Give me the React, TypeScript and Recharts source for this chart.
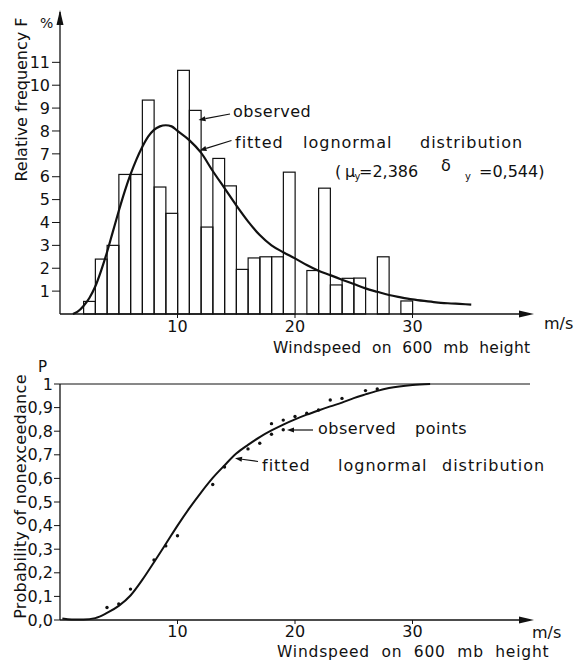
import {
  Bar,
  ComposedChart,
  Line,
  ReferenceDot,
  ReferenceLine,
  Scatter,
  XAxis,
  YAxis,
} from "recharts";

const INK = "#111";
const FONT = "'DejaVu Sans', sans-serif";

// histogram: lower edge of each 1 m/s class, relative frequency in %
const BIN_START = [
  2, 3, 4, 5, 6, 7, 8, 9, 10, 11, 12, 13, 14, 15, 16, 17, 18, 19, 20, 21, 22,
  23, 24, 25, 26, 27, 28, 29,
];
const BIN_FREQ = [
  0.55, 2.4, 3.0, 6.1, 6.1, 9.35, 5.55, 4.4, 10.65, 8.9, 3.8, 6.8, 5.6, 1.95,
  2.45, 2.5, 2.5, 6.2, 0, 1.9, 5.5, 1.27, 1.56, 1.57, 0, 2.5, 0, 0.57,
];

// fitted lognormal density
const PDF_X = [
  1.1, 1.5, 2, 2.5, 3, 3.5, 4, 4.5, 5, 5.5, 6, 6.5, 7, 7.5, 8, 8.5, 9, 9.5, 10,
  11, 12, 13, 14, 15, 16, 17, 18, 19, 20, 21, 22, 23, 24, 25, 26, 27, 28, 29,
  30, 31, 32, 33, 34, 35,
];
const PDF_F = [
  0, 0.1, 0.35, 0.7, 1.2, 1.9, 2.7, 3.6, 4.5, 5.35, 6.1, 6.75, 7.3, 7.75, 8.05,
  8.2, 8.25, 8.2, 8.0, 7.6, 7.05, 6.25, 5.5, 4.75, 4.05, 3.45, 3.0, 2.7, 2.43,
  2.14, 1.89, 1.7, 1.5, 1.31, 1.12, 0.97, 0.83, 0.73, 0.64, 0.57, 0.51, 0.47,
  0.44, 0.41,
];

// probability of nonexceedance: observed points
const OBS_X = [
  4, 5, 6, 8, 9, 10, 13, 14, 16, 17, 18, 18, 19, 19, 20, 21, 22, 23, 24, 26,
  27,
];
const OBS_P = [
  0.053, 0.068, 0.131, 0.254, 0.314, 0.357, 0.574, 0.648, 0.725, 0.749, 0.787,
  0.832, 0.806, 0.847, 0.862, 0.876, 0.89, 0.932, 0.939, 0.972, 0.979,
];

// fitted lognormal cdf
const CDF_X = [
  0.2, 1, 2, 3, 4, 5, 6, 7, 8, 9, 10, 11, 12, 13, 14, 15, 16, 17, 18, 19, 20,
  21, 22, 23, 24, 25, 26, 27, 28, 30, 31.5,
];
const CDF_P = [
  0.006, 0.002, 0.002, 0.008, 0.03, 0.06, 0.104, 0.17, 0.245, 0.322, 0.4,
  0.473, 0.54, 0.602, 0.655, 0.705, 0.742, 0.775, 0.803, 0.828, 0.85, 0.87,
  0.888, 0.905, 0.921, 0.94, 0.956, 0.971, 0.983, 0.996, 1.0,
];

const SPEED_TICKS = [10, 20, 30];
const FREQ_TICKS = [1, 2, 3, 4, 5, 6, 7, 8, 9, 10, 11];
const P_TICKS = [0, 0.1, 0.2, 0.3, 0.4, 0.5, 0.6, 0.7, 0.8, 0.9, 1];

const W = 576;
const AXIS_W = 60;
const RIGHT = 46;
const X_MAX = 40;
const BIN_PX = (W - AXIS_W - RIGHT) / X_MAX;

const bins = BIN_START.map((s, i) => ({ x: s + 0.5, freq: BIN_FREQ[i] }));
const pdf = PDF_X.map((x, i) => ({ x, f: PDF_F[i] }));
const obs = OBS_X.map((x, i) => ({ x, p: OBS_P[i] }));
const cdf = CDF_X.map((x, i) => ({ x, p: CDF_P[i] }));

const tickStyle = { fill: INK, fontSize: 16, fontFamily: FONT };
const pLabel = (v: number) => (v === 1 ? "1" : v.toFixed(1).replace(".", ","));

// bars are centred on the class middle; widen them to the full class width
const binShape = (p: any) => {
  if (!p.height) return <g />;
  const cx = p.x + p.width / 2;
  return (
    <rect
      x={cx - BIN_PX / 2}
      y={p.y}
      width={BIN_PX}
      height={p.height}
      fill="none"
      stroke={INK}
      strokeWidth={1.2}
    />
  );
};

const arrowRight = (p: any) => (
  <path
    d={`M${p.cx + 4},${p.cy} L${p.cx - 11},${p.cy - 3.5} L${p.cx - 11},${p.cy + 3.5} Z`}
    fill={INK}
  />
);
const arrowUp = (p: any) => (
  <path
    d={`M${p.cx},${p.cy - 2} L${p.cx - 3.5},${p.cy + 13} L${p.cx + 3.5},${p.cy + 13} Z`}
    fill={INK}
  />
);
const dot = (p: any) => <circle cx={p.cx} cy={p.cy} r={1.7} fill={INK} />;

function Pointer({ from, to }: { from: number[]; to: number[] }) {
  const [x1, y1] = from;
  const [x2, y2] = to;
  const a = Math.atan2(y2 - y1, x2 - x1);
  const bx = x2 - 7 * Math.cos(a);
  const by = y2 - 7 * Math.sin(a);
  const px = -Math.sin(a) * 2.6;
  const py = Math.cos(a) * 2.6;
  return (
    <g>
      <line x1={x1} y1={y1} x2={bx} y2={by} stroke={INK} strokeWidth={1.2} />
      <path d={`M${x2},${y2} L${bx + px},${by + py} L${bx - px},${by - py} Z`} fill={INK} />
    </g>
  );
}

export default function App() {
  const txt = { fill: INK, fontSize: 16, fontFamily: FONT } as const;
  return (
    <div style={{ position: "absolute", left: 0, top: 0, width: W, height: 660, background: "#fff", fontFamily: FONT }}>
      <div style={{ position: "absolute", left: 0, top: 0 }}>
        <ComposedChart
          width={W}
          height={355}
          data={bins}
          margin={{ top: 12, right: RIGHT, bottom: 0, left: 0 }}
        >
          <XAxis
            type="number"
            dataKey="x"
            domain={[0, X_MAX]}
            ticks={SPEED_TICKS}
            interval={0}
            height={41}
            tick={tickStyle}
            tickSize={4}
            tickMargin={3}
            axisLine={{ stroke: INK, strokeWidth: 1.3 }}
            tickLine={{ stroke: INK }}
          />
          <YAxis
            type="number"
            domain={[0, 13.2]}
            ticks={FREQ_TICKS}
            interval={0}
            width={AXIS_W}
            tick={tickStyle}
            tickSize={8}
            tickMargin={2}
            axisLine={{ stroke: INK, strokeWidth: 1.3 }}
            tickLine={{ stroke: INK }}
          />
          <Bar
            dataKey="freq"
            fill="none"
            stroke={INK}
            shape={binShape}
            isAnimationActive={false}
          />
          <Line
            data={pdf}
            dataKey="f"
            type="monotone"
            stroke={INK}
            strokeWidth={2.2}
            dot={false}
            activeDot={false}
            isAnimationActive={false}
          />
          <ReferenceDot x={X_MAX} y={0} r={0} shape={arrowRight} ifOverflow="visible" />
          <ReferenceDot x={0} y={13.2} r={0} shape={arrowUp} ifOverflow="visible" />
        </ComposedChart>
      </div>

      <div style={{ position: "absolute", left: 0, top: 355 }}>
        <ComposedChart
          width={W}
          height={305}
          margin={{ top: 29, right: RIGHT, bottom: 0, left: 0 }}
        >
          <XAxis
            type="number"
            dataKey="x"
            domain={[0, X_MAX]}
            ticks={SPEED_TICKS}
            interval={0}
            height={40}
            tick={tickStyle}
            tickSize={4}
            tickMargin={2}
            axisLine={{ stroke: INK, strokeWidth: 1.3 }}
            tickLine={{ stroke: INK }}
          />
          <YAxis
            type="number"
            dataKey="p"
            domain={[0, 1]}
            ticks={P_TICKS}
            interval={0}
            tickFormatter={pLabel}
            width={AXIS_W}
            tick={tickStyle}
            tickSize={6}
            tickMargin={1}
            axisLine={{ stroke: INK, strokeWidth: 1.3 }}
            tickLine={{ stroke: INK }}
          />
          <ReferenceLine y={1} stroke={INK} strokeWidth={1} />
          <Line
            data={cdf}
            dataKey="p"
            type="monotone"
            stroke={INK}
            strokeWidth={2}
            dot={false}
            activeDot={false}
            isAnimationActive={false}
          />
          <Scatter data={obs} dataKey="p" shape={dot} isAnimationActive={false} />
          <ReferenceDot x={X_MAX} y={0} r={0} shape={arrowRight} ifOverflow="visible" />
        </ComposedChart>
      </div>

      <svg
        width={W}
        height={660}
        style={{ position: "absolute", left: 0, top: 0, pointerEvents: "none" }}
      >
        {/* top panel labels */}
        <text {...txt} transform="translate(26.5 99.5) rotate(-90)" textAnchor="middle">
          Relative frequency F
        </text>
        <text {...txt} x={40} y={28} fontSize={14}>%</text>
        <text {...txt} x={544} y={329}>m/s</text>
        <text {...txt} x={273} y={353} fontSize={15.5} letterSpacing={0.3} style={{ whiteSpace: "pre" }}>
          Windspeed  on  600  mb  height
        </text>

        <text {...txt} y={117} letterSpacing={0.5}>
          <tspan x={233}>observed</tspan>
        </text>
        <Pointer from={[230, 114]} to={[198.5, 120]} />
        <text {...txt} y={148} letterSpacing={1}>
          <tspan x={235}>fitted</tspan>
          <tspan x={303}>lognormal</tspan>
          <tspan x={420}>distribution</tspan>
        </text>
        <Pointer from={[231.5, 140.5]} to={[199.5, 150.5]} />

        <text {...txt} x={335} y={177}>(</text>
        <text {...txt} x={345} y={177}>μ</text>
        <text {...txt} x={354.5} y={180} fontSize={10}>y</text>
        <text {...txt} x={359} y={177}>=2,386</text>
        <text {...txt} x={441} y={171}>δ</text>
        <text {...txt} x={465} y={180} fontSize={10}>y</text>
        <text {...txt} x={479} y={177}>=0,544)</text>

        {/* bottom panel labels */}
        <text {...txt} x={38} y={372} fontSize={15}>P</text>
        <text
          {...txt}
          transform="translate(25.5 496.5) rotate(-90)"
          textAnchor="middle"
          letterSpacing={0.3}
        >
          Probability of nonexceedance
        </text>
        <text {...txt} x={532} y={638}>m/s</text>
        <text {...txt} x={277} y={656.5} fontSize={15.5} letterSpacing={0.8} style={{ whiteSpace: "pre" }}>
          Windspeed  on  600  mb  height
        </text>

        <text {...txt} y={434} letterSpacing={0.5}>
          <tspan x={318}>observed</tspan>
          <tspan x={415}>points</tspan>
        </text>
        <Pointer from={[313, 430]} to={[287, 430]} />
        <text {...txt} y={471} letterSpacing={1}>
          <tspan x={262}>fitted</tspan>
          <tspan x={338}>lognormal</tspan>
          <tspan x={442}>distribution</tspan>
        </text>
        <Pointer from={[258, 461.5]} to={[235, 458.3]} />
      </svg>
    </div>
  );
}
